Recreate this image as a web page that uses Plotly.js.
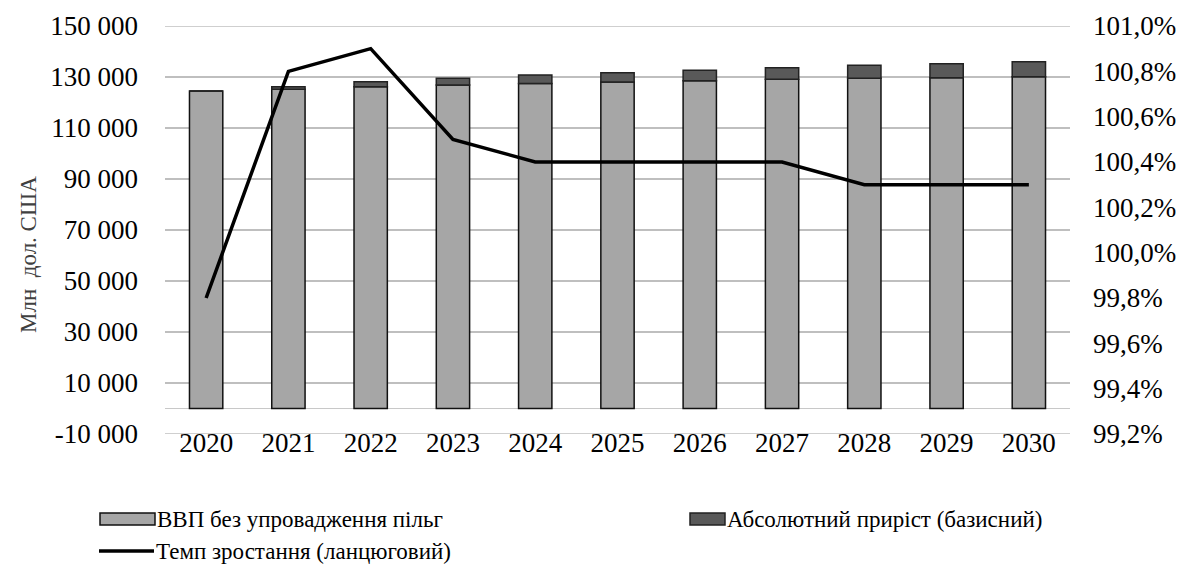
<!DOCTYPE html>
<html>
<head>
<meta charset="utf-8">
<script src="https://cdn.plot.ly/plotly-3.0.1.min.js"></script>
</head>
<body style="margin:0;background:#fff">
<div id="chart" style="width:1186px;height:572px"></div>
<script>
// ---- data ----
const years = ['2020','2021','2022','2023','2024','2025','2026','2027','2028','2029','2030'];
const gdpBase = [124500, 125200, 126200, 126900, 127500, 128000, 128500, 129100, 129500, 129700, 130100];
const absGrowth = [0, 1000, 1950, 2600, 3250, 3650, 4100, 4550, 5100, 5500, 5900];
const growthRate = [99.8, 100.8, 100.9, 100.5, 100.4, 100.4, 100.4, 100.4, 100.3, 100.3, 100.3];

const leftTickVals = [-10000, 10000, 30000, 50000, 70000, 90000, 110000, 130000, 150000];
const leftTickText = ['-10 000', '10 000', '30 000', '50 000', '70 000', '90 000', '110 000', '130 000', '150 000'];
const rightTickVals = [99.2, 99.4, 99.6, 99.8, 100.0, 100.2, 100.4, 100.6, 100.8, 101.0];
const rightTickText = ['99,2%', '99,4%', '99,6%', '99,8%', '100,0%', '100,2%', '100,4%', '100,6%', '100,8%', '101,0%'];

const seriesNames = ['ВВП без упровадження пільг', 'Абсолютний приріст (базисний)', 'Темп зростання (ланцюговий)'];
const yTitle = 'Млн  дол. США';

(function () {
  var fam = 'Times New Roman';
  var cBase = '#a6a6a6', cAbs = '#595959';
  var pl = 165, pr = 1070, pt = 26, pb = 434;
  var pw = pr - pl, ph = pb - pt;
  function fx(x) { return (x - pl) / pw; }
  function fy(y) { return (pb - y) / ph; }

  var traces = [
    { type: 'bar', name: seriesNames[0], x: years, y: gdpBase,
      marker: { color: cBase, line: { color: '#111', width: 1.5 } } },
    { type: 'bar', name: seriesNames[1], x: years, y: absGrowth,
      marker: { color: cAbs, line: { color: '#222', width: 1.5 } } },
    { type: 'scatter', mode: 'lines', name: seriesNames[2], x: years, y: growthRate,
      yaxis: 'y2', line: { color: '#000', width: 3.5 } }
  ];

  var shapes = [
    { type: 'line', xref: 'paper', yref: 'y', x0: 0, x1: 1, y0: leftTickVals[0], y1: leftTickVals[0],
      line: { color: '#bfbfbf', width: 1.3 }, layer: 'below' },
    { type: 'line', xref: 'paper', yref: 'y', x0: 0, x1: 1, y0: leftTickVals[leftTickVals.length - 1], y1: leftTickVals[leftTickVals.length - 1],
      line: { color: '#bfbfbf', width: 1.3 }, layer: 'below' },
    { type: 'rect', xref: 'paper', yref: 'paper', x0: fx(100), x1: fx(155), y0: fy(525), y1: fy(513),
      fillcolor: cBase, line: { color: '#111', width: 1.5 } },
    { type: 'rect', xref: 'paper', yref: 'paper', x0: fx(690), x1: fx(725), y0: fy(525), y1: fy(513),
      fillcolor: cAbs, line: { color: '#222', width: 1.5 } },
    { type: 'line', xref: 'paper', yref: 'paper', x0: fx(99), x1: fx(154), y0: fy(551), y1: fy(551),
      line: { color: '#000', width: 3.5 } }
  ];

  var annotations = [
    { xref: 'paper', yref: 'paper', x: fx(155), y: fy(519), xanchor: 'left', yanchor: 'middle',
      text: seriesNames[0], showarrow: false, font: { family: fam, size: 23, color: '#000' } },
    { xref: 'paper', yref: 'paper', x: fx(725), y: fy(519), xanchor: 'left', yanchor: 'middle',
      text: seriesNames[1], showarrow: false, font: { family: fam, size: 23, color: '#000' } },
    { xref: 'paper', yref: 'paper', x: fx(154), y: fy(551), xanchor: 'left', yanchor: 'middle',
      text: seriesNames[2], showarrow: false, font: { family: fam, size: 23, color: '#000' } },
    { xref: 'paper', yref: 'paper', x: fx(28), y: fy(255), xanchor: 'center', yanchor: 'middle',
      text: yTitle, textangle: -90, showarrow: false, font: { family: fam, size: 23, color: '#404040' } }
  ];

  var layout = {
    width: 1186, height: 572,
    margin: { l: pl, r: 1186 - pr, t: pt, b: 572 - pb, pad: 0 },
    paper_bgcolor: '#fff', plot_bgcolor: '#fff',
    font: { family: fam, size: 27, color: '#000' },
    barmode: 'relative',
    bargap: 0.595,
    showlegend: false,
    xaxis: {
      type: 'category', showgrid: false, showline: false, ticks: '',
      tickfont: { family: fam, size: 27, color: '#000' },
      ticklabelstandoff: -10
    },
    yaxis: {
      range: [-10000, 150000], tickvals: leftTickVals, ticktext: leftTickText,
      showgrid: true, gridcolor: '#bfbfbf', gridwidth: 1.3,
      zeroline: true, zerolinecolor: '#c8c8c8', zerolinewidth: 1.3,
      showline: false, ticks: '',
      tickfont: { family: fam, size: 27, color: '#000' },
      ticklabelstandoff: 26
    },
    yaxis2: {
      overlaying: 'y', side: 'right',
      range: [99.2, 101.0], tickvals: rightTickVals, ticktext: rightTickText,
      showgrid: false, zeroline: false, showline: false, ticks: '',
      tickfont: { family: fam, size: 27, color: '#000' },
      ticklabelstandoff: 22
    },
    shapes: shapes,
    annotations: annotations
  };

  Plotly.newPlot('chart', traces, layout, { displayModeBar: false, staticPlot: true });
})();
</script>
</body>
</html>
